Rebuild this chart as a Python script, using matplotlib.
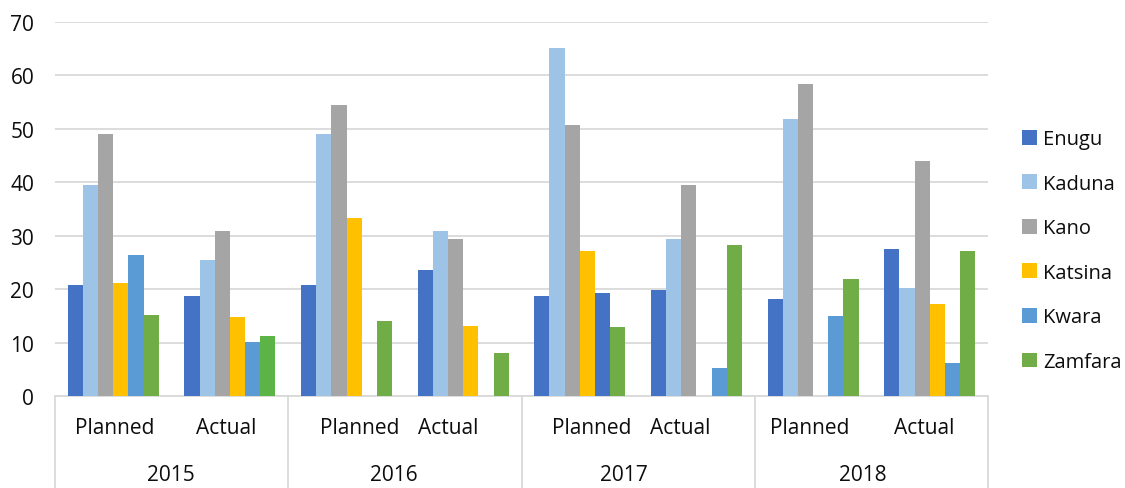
import matplotlib

matplotlib.use("Agg")
import matplotlib.pyplot as plt  # noqa: E402
from matplotlib.patches import Patch  # noqa: E402
import numpy as np  # noqa: E402

plt.rcParams["font.family"] = ["Open Sans", "DejaVu Sans"]

# Categorias do eixo x (dois níveis)
years = ["2015", "2016", "2017", "2018"]
phases = ["Planned", "Actual"]

states = ["Enugu", "Kaduna", "Kano", "Katsina", "Kwara", "Zamfara"]
colors = ["#4472C4", "#9DC3E6", "#A5A5A5", "#FFC000", "#5B9BD5", "#70AD47"]

# valores por estado: 2015 P, 2015 A, 2016 P, 2016 A, 2017 P, 2017 A, 2018 P, 2018 A
enugu = [20.7, 18.7, 20.7, 23.5, 18.7, 19.8, 18.1, 27.5]
kaduna = [39.5, 25.4, 49.0, 30.9, 65.1, 29.4, 51.8, 20.2]
kano = [49.0, 30.9, 54.5, 29.4, 50.7, 39.5, 58.4, 44.0]
katsina = [21.1, 14.7, 33.3, 13.1, 27.1, 0, 0, 17.2]
kwara = [26.4, 10.1, 0, 0, 19.2, 5.2, 14.9, 6.1]
zamfara = [15.1, 11.2, 14.0, 8.0, 12.9, 28.2, 21.9, 27.1]
series = [enugu, kaduna, kano, katsina, kwara, zamfara]

# pontos com cor própria (estado, categoria) -> cor
point_colors = {(4, 4): "#4472C4", (5, 1): "#5CB346"}

fig = plt.figure(figsize=(11.25, 4.89), dpi=100)
ax = fig.add_axes([55 / 1125, 92 / 489, 933 / 1125, 374 / 489])

n_cat = len(years) * len(phases)
x = np.arange(n_cat)
w = 0.13
for j, (name, vals) in enumerate(zip(states, series)):
    cols = [point_colors.get((j, i), colors[j]) for i in range(n_cat)]
    ax.bar(x + (j - 2.5) * w, vals, width=w, color=cols, linewidth=0, zorder=3)

ax.set_xlim(-0.5, n_cat - 0.5)
ax.set_ylim(0, 70)
ax.set_yticks(range(0, 71, 10))
ax.yaxis.grid(True, color="#D9D9D9", linewidth=1.3, zorder=0)
ax.tick_params(axis="y", length=0, pad=15, labelsize=15, labelcolor="#0d0d0d")
ax.set_xticks([])
for s in ["top", "right", "left"]:
    ax.spines[s].set_visible(False)
ax.spines["bottom"].set_color("#D9D9D9")
ax.spines["bottom"].set_linewidth(1.3)

# rótulos em dois níveis abaixo do eixo
phase_nudge = [0.012, -0.031, 0.116, -0.131, 0.103, -0.14, -0.033, -0.049]
year_nudge = [-0.007, -0.093, -0.126, -0.075]
tr = ax.get_xaxis_transform()
for i in range(n_cat):
    ax.text(i + phase_nudge[i], -0.083, phases[i % 2], transform=tr,
            ha="center", va="center", fontsize=15, color="#0d0d0d")
for k, yr in enumerate(years):
    ax.text(2 * k + 0.5 + year_nudge[k], -0.209, yr, transform=tr,
            ha="center", va="center", fontsize=15, color="#0d0d0d")
for xs in [-0.5, 1.5, 3.5, 5.5, n_cat - 0.5]:
    ax.plot([xs, xs], [0, -0.25], transform=tr, color="#D9D9D9",
            linewidth=1.3, clip_on=False)

handles = [Patch(facecolor=c, edgecolor="none") for c in colors]
leg = fig.legend(handles, states, loc="center left",
                 bbox_to_anchor=(1014 / 1125, 0.4855),
                 frameon=False, fontsize=14.5, handlelength=0.75,
                 handleheight=0.75, handletextpad=0.3, labelspacing=1.22,
                 borderaxespad=0)
for t in leg.get_texts():
    t.set_color("#0d0d0d")

fig.savefig("out.png", dpi=100)
